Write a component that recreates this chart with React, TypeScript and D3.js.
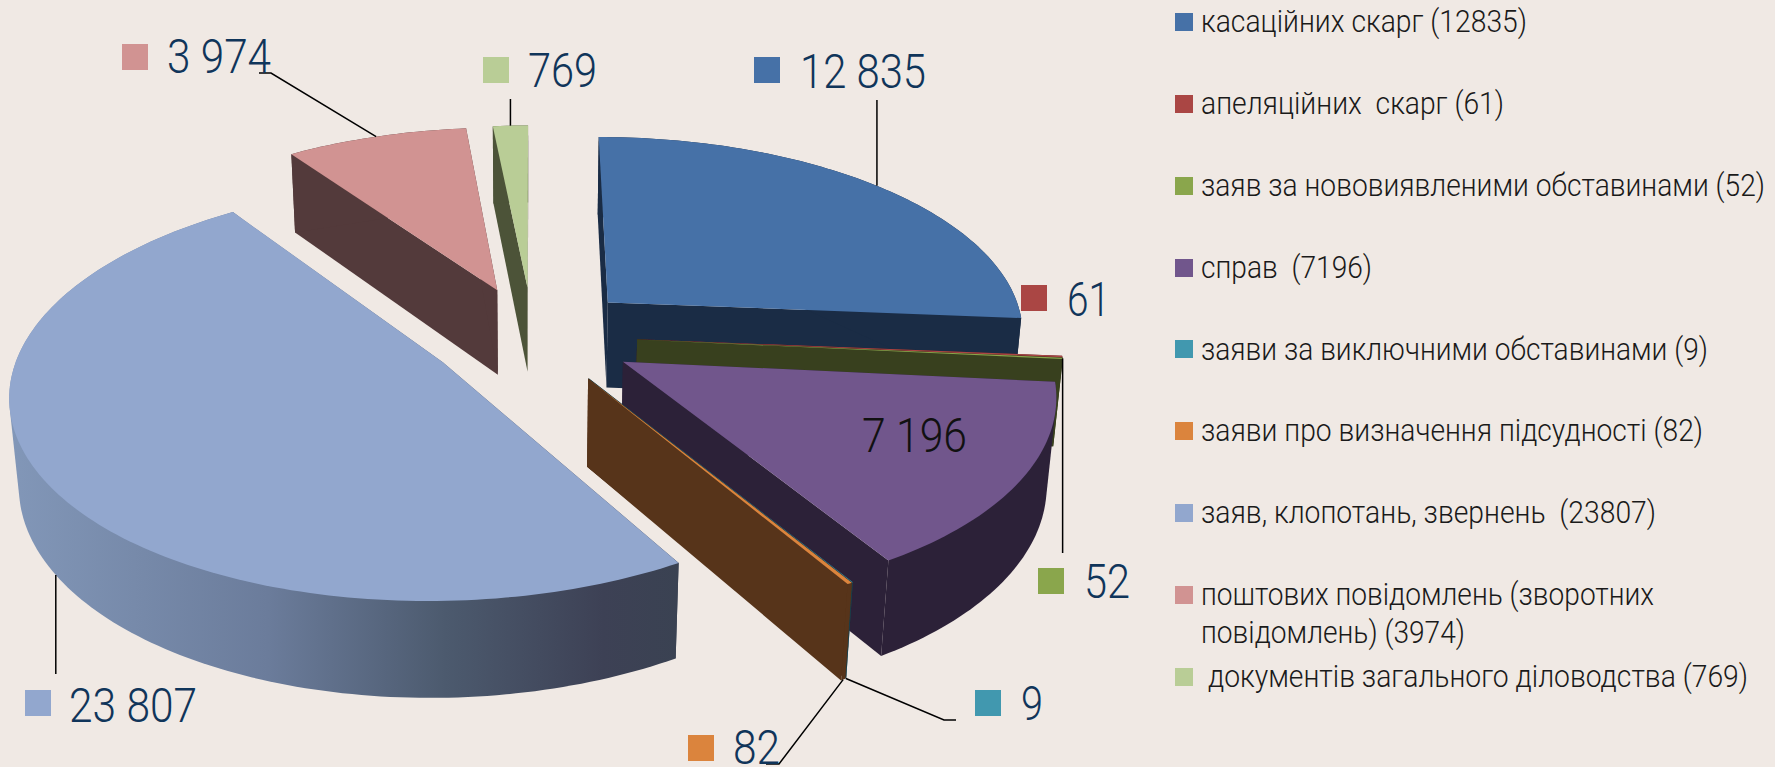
import * as d3 from 'd3';

// data
const categories = [
  ['касаційних скарг (12835)'],
  ['апеляційних  скарг (61)'],
  ['заяв за нововиявленими обставинами (52)'],
  ['справ  (7196)'],
  ['заяви за виключними обставинами (9)'],
  ['заяви про визначення підсудності (82)'],
  ['заяв, клопотань, звернень  (23807)'],
  ['поштових повідомлень (зворотних', 'повідомлень) (3974)'],
  ['документів загального діловодства (769)'],
];
const values = [12835, 61, 52, 7196, 9, 82, 23807, 3974, 769];
const valueLabels = ['12 835', '61', '52', '7 196', '9', '82', '23 807', '3 974', '769'];

const topColors = ['#4671a7', '#aa4644', '#8aa64c', '#71568c', '#4198af', '#db843d', '#92a7ce', '#d19392', '#b9cd96'];
const wallColors = ['#1a2c45', '#4a1e1d', '#38401e', '#2c2138', '#1b3f4a', '#57341a', 'url(#wallFade)', '#533a3b', '#4c5338'];

// back to front
const drawOrder = [8, 7, 0, 1, 2, 3, 4, 5, 6];

// value label layout: key x, key y, text x, baseline, text width
const labelKeyX = [754, 1021, 1038, 817, 975, 688, 25, 122, 483];
const labelKeyY = [57, 285, 568, 422, 690, 735, 690, 44, 57];
const labelTextX = [800, 1067, 1084, 862, 1021, 733, 69, 167, 528];
const labelBase = [88, 316, 598, 452, 720, 764, 722, 73, 87];
const labelWidth = [126, 43, 46, 105, 22, 47, 128, 104, 69];

// leader lines: slice, edge (0 top, 1 bottom), then the elbow points (null x = straight up or down)
const leaders: { slice: number; h: number; rest: [number | null, number][] }[] = [
  { slice: 0, h: 0, rest: [[null, 100]] },
  { slice: 2, h: 0, rest: [[null, 553]] },
  { slice: 4, h: 1, rest: [[944, 720], [956, 720]] },
  { slice: 5, h: 1, rest: [[779, 764], [766, 764]] },
  { slice: 6, h: 1, rest: [[null, 674]] },
  { slice: 7, h: 0, rest: [[271, 73], [259, 73]] },
  { slice: 8, h: 0, rest: [[null, 99]] },
];

// legend layout
const legendKeyY = [13, 95, 177, 259, 340, 422, 504, 586, 668];
const legendBase = [32, 114, 196, 278, 360, 441, 523, 605, 687];
const legendTextX = [1201, 1201, 1201, 1201, 1201, 1201, 1201, 1201, 1208];
const legendWidths = [[326], [303], [564], [171], [507], [502], [455], [453, 264], [540]];

// projection of the pie plane
const cx = 532.5;
const cy = 335;
const radiusX = 419;
const radiusY = 197;
const tilt = 0.14;
const sink = 0.018;
const thickness = 88;
const explode = 0.25;

type Pt = [number, number];

const project = (u: number, v: number, h: number): Pt => {
  const w = 1 / (1 + tilt * v + sink * h);
  return [cx + radiusX * u * w, cy + (-radiusY * v + thickness * h) * w];
};

const arcs = d3.pie<number>().sort(null)(values);
const line = d3.line<Pt>();

const sliceParts = (i: number) => {
  const { startAngle, endAngle } = arcs[i];
  const mid = (startAngle + endAngle) / 2;
  const ox = explode * Math.sin(mid);
  const oy = explode * Math.cos(mid);
  const rim = (a: number, h: number) => project(ox + Math.sin(a), oy + Math.cos(a), h);
  const steps = Math.max(2, Math.ceil((endAngle - startAngle) / 0.02));
  const angles = d3.range(steps + 1).map((k) => startAngle + ((endAngle - startAngle) * k) / steps);
  const apexTop = project(ox, oy, 0);
  const apexBottom = project(ox, oy, 1);
  const top = [apexTop, ...angles.map((a) => rim(a, 0))];
  // hull keeps the silhouette where the top and bottom rims cross on the left
  const outer = d3.polygonHull([...angles.map((a) => rim(a, 0)), ...angles.map((a) => rim(a, 1))]) as Pt[];
  const sideA = [apexTop, rim(startAngle, 0), rim(startAngle, 1), apexBottom];
  const sideB = [apexTop, rim(endAngle, 0), rim(endAngle, 1), apexBottom];
  return { top, outer, sideA, sideB, anchor: (h: number) => rim(mid, h) };
};

const leaderPath = (l: (typeof leaders)[number]) => {
  const start = sliceParts(l.slice).anchor(l.h);
  const pts = l.rest.map(([x, y]): Pt => [x === null ? start[0] : x, y]);
  return line([start, ...pts]) as string;
};

const labelFont = { fontFamily: 'Roboto, sans-serif', fontWeight: 300 };

export default function App() {
  return (
    <svg
      width={1775}
      height={767}
      style={{ position: 'absolute', left: 0, top: 0, background: '#f0e9e4' }}
    >
      <defs>
        <linearGradient id="wallFade" gradientUnits="userSpaceOnUse" x1={10} y1={0} x2={680} y2={0}>
          <stop offset="0" stopColor="#8297b8" />
          <stop offset="0.385" stopColor="#6b7c9b" />
          <stop offset="0.65" stopColor="#4c5a6e" />
          <stop offset="0.885" stopColor="#3d4155" />
          <stop offset="1" stopColor="#3a4252" />
        </linearGradient>
      </defs>

      {drawOrder.map((i) => {
        const part = sliceParts(i);
        return (
          <g key={i}>
            <path d={line(part.sideA) + 'Z'} fill={wallColors[i]} />
            <path d={line(part.sideB) + 'Z'} fill={wallColors[i]} />
            <path d={line(part.outer) + 'Z'} fill={wallColors[i]} />
            <path d={line(part.top) + 'Z'} fill={topColors[i]} />
          </g>
        );
      })}

      {leaders.map((l) => (
        <path key={l.slice} d={leaderPath(l)} fill="none" stroke="#000" strokeWidth={1.5} />
      ))}

      {values.map((_, i) => (
        <g key={i}>
          <rect x={labelKeyX[i]} y={labelKeyY[i]} width={26} height={26} fill={topColors[i]} />
          <text
            x={labelTextX[i]}
            y={labelBase[i]}
            fontSize={48}
            fill={i === 3 ? '#111' : '#10355a'}
            textLength={labelWidth[i]}
            lengthAdjust="spacingAndGlyphs"
            style={labelFont}
          >
            {valueLabels[i]}
          </text>
        </g>
      ))}

      {categories.map((rows, i) => (
        <g key={i}>
          <rect x={1175} y={legendKeyY[i]} width={18} height={18} fill={topColors[i]} />
          {rows.map((row, r) => (
            <text
              key={r}
              x={legendTextX[i]}
              y={legendBase[i] + r * 38}
              fontSize={32}
              fill="#1a1a1a"
              textLength={legendWidths[i][r]}
              lengthAdjust="spacingAndGlyphs"
              style={{ ...labelFont, whiteSpace: 'pre' }}
            >
              {row}
            </text>
          ))}
        </g>
      ))}
    </svg>
  );
}
